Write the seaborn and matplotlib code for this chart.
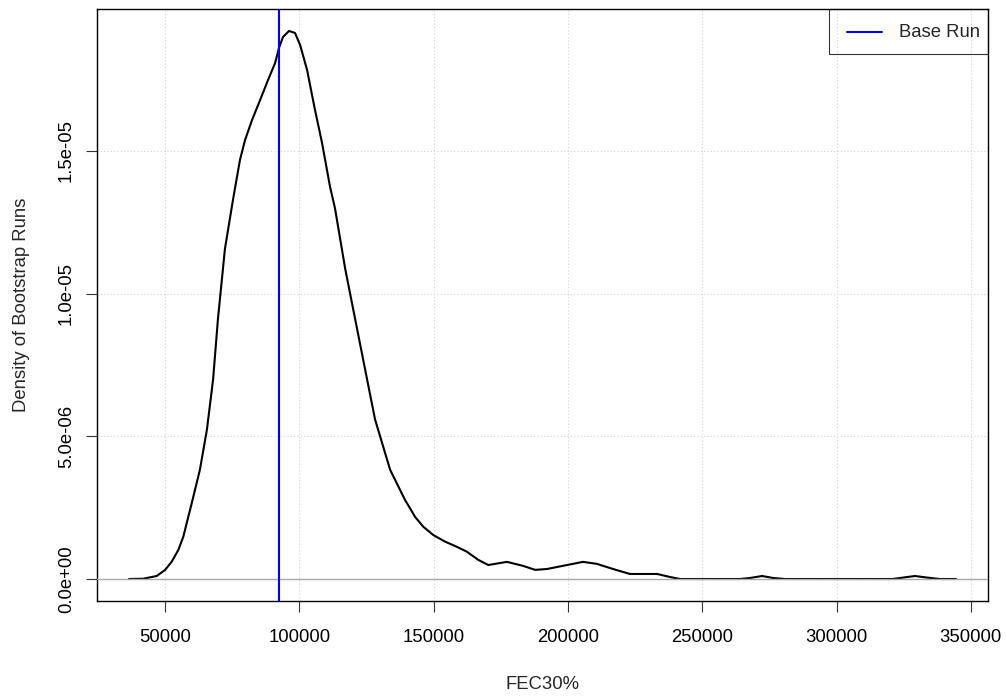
import numpy as np
import pandas as pd
import matplotlib
matplotlib.use("Agg")
import matplotlib.pyplot as plt
import seaborn as sns
from matplotlib.legend_handler import HandlerLine2D

# density curve of bootstrap runs
fec30 = [36600, 41920, 46910, 50000, 52490, 54950, 56810, 58670, 59940, 63000,
         65600, 67900, 69700, 72300, 75300, 77900, 79800, 82400, 85400, 88350,
         91000, 92440, 93930, 96170, 98400, 100300, 102900, 105850, 108460, 111440,
         113300, 117100, 120800, 124500, 128200, 133800, 139350, 141210, 143070, 146170,
         149890, 154240, 158600, 162320, 166640, 170360, 177300, 183300, 187800, 192200,
         199700, 205600, 210800, 216800, 223100, 233200, 238000, 241700, 264100, 267800,
         272300, 276400, 280800, 321000, 324800, 329200, 333700, 338500, 344500]
density = [0, 1e-8, 1.05e-7, 3.15e-7, 6.06e-7, 1.016e-6, 1.48e-6, 2.18e-6, 2.65e-6, 3.83e-6,
           5.23e-6, 6.99e-6, 9.1e-6, 1.156e-5, 1.328e-5, 1.468e-5, 1.538e-5, 1.608e-5, 1.678e-5, 1.748e-5,
           1.808e-5, 1.861e-5, 1.899e-5, 1.920e-5, 1.913e-5, 1.871e-5, 1.783e-5, 1.643e-5, 1.528e-5, 1.374e-5,
           1.298e-5, 1.086e-5, 9.1e-6, 7.34e-6, 5.59e-6, 3.83e-6, 2.77e-6, 2.48e-6, 2.18e-6, 1.83e-6,
           1.54e-6, 1.31e-6, 1.13e-6, 9.6e-7, 6.7e-7, 4.9e-7, 6.0e-7, 4.6e-7, 3.2e-7, 3.5e-7,
           4.9e-7, 6.0e-7, 5.3e-7, 3.5e-7, 1.76e-7, 1.76e-7, 7e-8, 0, 0, 3.5e-8,
           1.05e-7, 3.5e-8, 0, 0, 5e-8, 1.05e-7, 5e-8, 0, 0]
base_run = 92440

x_ticks = [50000, 100000, 150000, 200000, 250000, 300000, 350000]
y_ticks = [0, 5e-6, 1e-5, 1.5e-5]
y_tick_labels = ["0.0e+00", "5.0e-06", "1.0e-05", "1.5e-05"]

sns.set_style("white")
plt.rcParams['font.family'] = ['Liberation Sans', 'DejaVu Sans']
fs = 13.3


class LowLine(HandlerLine2D):
    # legend line sitting a bit lower, as in R's legend()
    def __init__(self, drop=0.0, **kw):
        super().__init__(**kw)
        self.drop = drop

    def create_artists(self, *args, **kw):
        arts = super().create_artists(*args, **kw)
        fsz = args[6]
        for a in arts:
            a.set_ydata(np.asarray(a.get_ydata()) - self.drop * fsz)
        return arts


df = pd.DataFrame({"FEC30%": fec30, "density": density})

fig = plt.figure(figsize=(10.06, 6.96), dpi=100)
ax = fig.add_axes([0.09642, 0.13649, 0.88569, 0.85058])

sns.lineplot(data=df, x="FEC30%", y="density", color="black", linewidth=1.5, ax=ax, zorder=3)
ax.axhline(0, color="#aaaaaa", linewidth=1.0, zorder=4)
ax.axvline(base_run, color="blue", linewidth=1.5, label="Base Run", zorder=5)

ax.set_xlim(24680, 356400)
ax.set_ylim(-7.71e-7, 1.997e-5)
ax.set_xticks(x_ticks)
ax.set_xticklabels([str(t) for t in x_ticks])
ax.set_yticks(y_ticks)
ax.set_yticklabels(y_tick_labels, rotation=90, va="center")

ax.grid(True, color="#d3d3d3", linestyle=(0, (1, 2)), linewidth=0.8)
ax.set_axisbelow(True)
ax.tick_params(axis="both", direction="out", length=8, width=0.8, color="#333333",
               labelsize=fs, labelcolor="black", bottom=True, left=True)
ax.tick_params(axis="x", pad=12.5)
ax.tick_params(axis="y", pad=8)
for s in ax.spines.values():
    s.set_color("black")
    s.set_linewidth(1.0)

ax.set_xlabel("FEC30%", fontsize=fs, labelpad=21)
ax.set_ylabel("Density of Bootstrap Runs", fontsize=fs, labelpad=19.7)

handles, labels = ax.get_legend_handles_labels()
leg = ax.legend(handles, labels, loc="upper right", fancybox=False, frameon=True,
                edgecolor="black", borderaxespad=0, handlelength=2.43, handleheight=2.03,
                handletextpad=0.92, borderpad=0.43, fontsize=fs,
                handler_map={handles[0]: LowLine(drop=0.26, xpad=0.54)})
leg.get_frame().set_facecolor("none")
leg.get_frame().set_linewidth(0.8)

fig.savefig("out.png", dpi=100)
